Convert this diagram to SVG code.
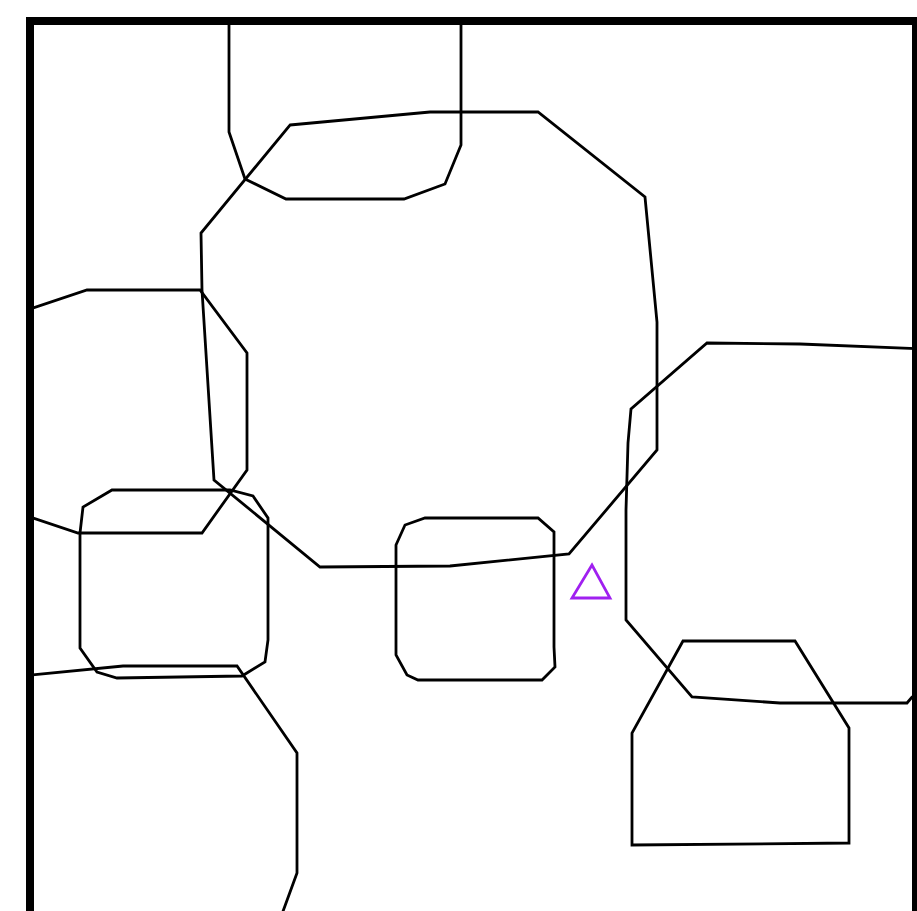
<svg xmlns="http://www.w3.org/2000/svg" width="917" height="911" viewBox="0 0 917 911">
<style>
.s{fill:none;stroke:#000;stroke-width:2.8;stroke-linejoin:miter}
.t{fill:none;stroke:#a020f0;stroke-width:2.8}
.frame{fill:none;stroke:#000;stroke-width:8}
</style>
<defs>
<clipPath id="inside"><rect x="30" y="21" width="886" height="900"/></clipPath>
</defs>
<rect width="917" height="911" fill="#fff"/>
<g clip-path="url(#inside)">
<g id="polyA"><polygon class="s" points="229,0 229,132 245,179 286,199 404,199 445,184 461,145 461,0"/></g>
<g id="polyB"><polygon class="s" points="290,125 430,112 538,112 645,197 657,322 657,450 569,554 450,566 320,567 214,480 202,290 201,233"/></g>
<g id="polyC"><polygon class="s" points="0,319 87,290 200,290 247,353 247,470 202,533 78,533 0,507"/></g>
<g id="polyD"><polygon class="s" points="112,490 230,490 253,496 268,518 268,640 265,662 242,676 117,678 97,672 80,648 80,533 83,507"/></g>
<g id="polyE"><polygon class="s" points="0,678 123,666 237,666 297,753 297,873 278,925 0,925"/></g>
<g id="polyF"><polygon class="s" points="425,518 538,518 554,532 554,647 555,667 542,680 418,680 407,675 396,655 396,545 405,525"/></g>
<g id="polyG"><polygon class="s" points="707,343 800,344 925,349 925,690 912,697 907,703 780,703 692,697 626,620 626,510 628,443 631,409"/></g>
<g id="polyH"><polygon class="s" points="683,641 795,641 849,728 849,843 632,845 632,733"/></g>
<g id="marker"><polygon class="t" points="592,565 572,598 610,598"/></g>
</g>
<rect class="frame" x="30" y="21" width="886" height="900"/>
</svg>
